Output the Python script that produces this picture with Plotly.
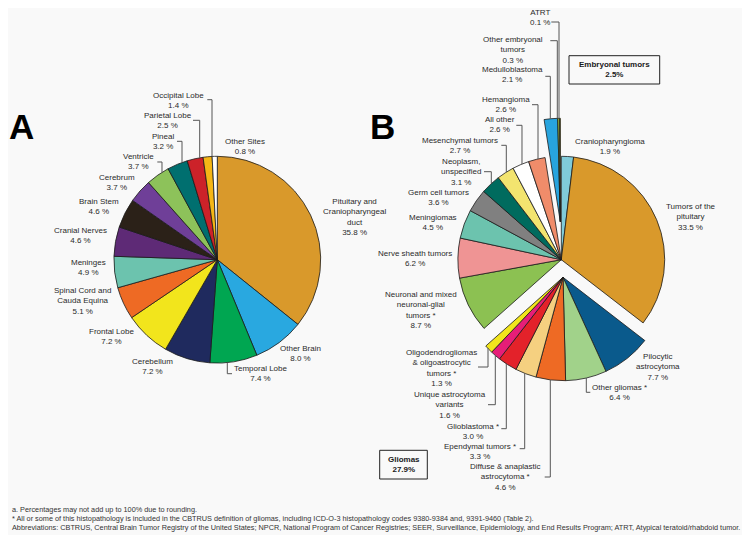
import math
import plotly.graph_objects as go

W, H = 750, 535

# ---------------- DATA ----------------
# Panel A: distribution by site
sites_a = ["Pituitary and Craniopharyngeal duct", "Other Brain", "Temporal Lobe", "Cerebellum",
           "Frontal Lobe", "Spinal Cord and Cauda Equina", "Meninges", "Cranial Nerves",
           "Brain Stem", "Cerebrum", "Ventricle", "Pineal", "Parietal Lobe",
           "Occipital Lobe", "Other Sites"]
pct_a = [35.8, 8.0, 7.4, 7.2, 7.2, 5.1, 4.9, 4.6, 4.6, 3.7, 3.7, 3.2, 2.5, 1.4, 0.8]

# Panel B: distribution by histopathology
hist_b = ["Craniopharyngioma", "Tumors of the pituitary", "Pilocytic astrocytoma",
          "Other gliomas *", "Diffuse & anaplastic astrocytoma *", "Ependymal tumors *",
          "Glioblastoma *", "Unique astrocytoma variants",
          "Oligodendrogliomas & oligoastrocytic tumors *",
          "Neuronal and mixed neuronal-glial tumors *", "Nerve sheath tumors", "Meningiomas",
          "Germ cell tumors", "Neoplasm, unspecified", "Mesenchymal tumors", "All other",
          "Hemangioma", "Medulloblastoma", "Other embryonal tumors", "ATRT"]
pct_b = [1.9, 33.5, 7.7, 6.4, 4.6, 3.3, 3.0, 1.6, 1.3, 8.7, 6.2, 4.5, 3.6, 3.1, 2.7, 2.6,
         2.6, 2.1, 0.3, 0.1]
group_b = ["none", "none", "Gliomas", "Gliomas", "Gliomas", "Gliomas", "Gliomas", "Gliomas",
           "Gliomas", "none", "none", "none", "none", "none", "none", "none", "none",
           "Embryonal tumors", "Embryonal tumors", "Embryonal tumors"]

footnotes = [
    "a. Percentages may not add up to 100% due to rounding.",
    "* All or some of this histopathology is included in the CBTRUS definition of gliomas, "
    "including ICD-O-3 histopathology codes 9380-9384 and, 9391-9460 (Table 2).",
    "Abbreviations: CBTRUS, Central Brain Tumor Registry of the United States; NPCR, National "
    "Program of Cancer Registries; SEER, Surveillance, Epidemiology, and End Results Program; "
    "ATRT, Atypical teratoid/rhabdoid tumor.",
]

# ---------------- STYLE / LAYOUT ----------------
colors_a = ["#d9992b", "#29a8e0", "#00a651", "#1f2a5e", "#f2e51c", "#ee6a24", "#6cc3ae",
            "#5e2a76", "#2b2118", "#6f3f98", "#8dc25a", "#006f6f", "#cc2229", "#f5b616",
            "#ffffff"]
colors_b = ["#80cbd9", "#d9992b", "#0a5a8c", "#a1d28a", "#ee6a24", "#f5d080", "#e3222a",
            "#e61e78", "#f2e51c", "#8cc152", "#ef9494", "#6cc3ae", "#808080", "#006b5e",
            "#f3e46f", "#ffffff", "#f08c6a", "#27a4de", "#9cbf3a", "#e8d21c"]

R = 103.4
CA = (209.3, 251.7)
CB = (553.3, 251.7)
SHIFT = {"none": (0.0, 0.0), "Gliomas": (1.7, 17.6), "Embryonal tumors": (-1.0, -38.0)}

display = {
    "Pituitary and Craniopharyngeal duct": "Pituitary and<br>Craniopharyngeal<br>duct",
    "Spinal Cord and Cauda Equina": "Spinal Cord and<br>Cauda Equina",
    "Tumors of the pituitary": "Tumors of the<br>pituitary",
    "Pilocytic astrocytoma": "Pilocytic<br>astrocytoma",
    "Diffuse & anaplastic astrocytoma *": "Diffuse &amp; anaplastic<br>astrocytoma *",
    "Unique astrocytoma variants": "Unique astrocytoma<br>variants",
    "Oligodendrogliomas & oligoastrocytic tumors *": "Oligodendrogliomas<br>&amp; oligoastrocytic<br>tumors *",
    "Neuronal and mixed neuronal-glial tumors *": "Neuronal and mixed<br>neuronal-glial<br>tumors *",
    "Neoplasm, unspecified": "Neoplasm,<br>unspecified",
    "Other embryonal tumors": "Other embryonal<br>tumors",
}

label_pos = {
    # panel A
    "Occipital Lobe": (170.7, 92.0), "Parietal Lobe": (160.0, 112.5), "Pineal": (155.3, 133.0),
    "Ventricle": (130.7, 153.8), "Cerebrum": (109.3, 174.2), "Brain Stem": (91.0, 198.0),
    "Cranial Nerves": (72.7, 227.8), "Other Sites": (237.3, 138.0),
    "Pituitary and Craniopharyngeal duct": (346.7, 209.3), "Meninges": (80.0, 259.2),
    "Spinal Cord and Cauda Equina": (74.7, 292.7), "Frontal Lobe": (103.7, 328.7),
    "Cerebellum": (144.7, 358.3), "Temporal Lobe": (252.7, 365.7), "Other Brain": (292.7, 345.2),
    # panel B
    "ATRT": (531.7, 9.7), "Other embryonal tumors": (505.0, 41.8),
    "Medulloblastoma": (504.0, 66.3), "Hemangioma": (498.3, 96.3), "All other": (491.7, 117.0),
    "Mesenchymal tumors": (451.7, 137.7), "Neoplasm, unspecified": (453.3, 163.8),
    "Germ cell tumors": (430.0, 189.0), "Craniopharyngioma": (601.7, 138.7),
    "Tumors of the pituitary": (683.3, 209.3), "Meningiomas": (425.0, 214.7),
    "Nerve sheath tumors": (406.7, 250.3),
    "Neuronal and mixed neuronal-glial tumors *": (413.3, 301.7),
    "Pilocytic astrocytoma": (650.0, 359.2), "Other gliomas *": (611.7, 384.8),
    "Oligodendrogliomas & oligoastrocytic tumors *": (433.3, 360.3),
    "Unique astrocytoma variants": (441.7, 396.7), "Glioblastoma *": (465.0, 423.0),
    "Ependymal tumors *": (471.7, 443.5), "Diffuse & anaplastic astrocytoma *": (497.3, 469.0),
}

# leader lines: list of points; 'top'/'bottom' -> point on circle at that x
leaders = [
    (CA, [(199.3, 91.7), (204.0, 91.7), (204.0, "top")]),
    (CA, [(185.0, 112.3), (191.7, 112.3), (191.7, "top")]),
    (CA, [(169.0, 133.3), (174.0, 133.3), (174.0, "top")]),
    (CA, [(149.3, 154.0), (154.0, 154.0), (154.0, "top")]),
    (CA, [(219.3, "bottom"), (219.3, 365.7), (224.0, 365.7)]),
    ("Embryonal tumors", [(543.3, 14.0), (551.0, 14.0), (551.0, "top")]),
    ("Embryonal tumors", [(542.3, 32.7), (549.3, 32.7), (549.3, "top")]),
    ("Embryonal tumors", [(537.3, 68.3), (542.3, 68.3), (542.3, "top")]),
    (CB, [(524.0, 96.7), (530.0, 96.7), (530.0, "top")]),
    (CB, [(508.3, 117.3), (514.0, 117.3), (514.0, "top")]),
    (CB, [(493.3, 137.3), (498.3, 137.3), (498.3, "top")]),
    (CB, [(476.0, 163.7), (483.3, 163.7), (483.3, "top")]),
    ("Gliomas", [(470.0, 359.0), (480.0, 359.0), (480.0, "bottom")]),
    ("Gliomas", [(480.0, 396.7), (487.3, 396.7), (487.3, "bottom")]),
    ("Gliomas", [(493.3, 420.7), (498.3, 420.7), (498.3, "bottom")]),
    ("Gliomas", [(511.7, 440.7), (516.7, 440.7), (516.7, "bottom")]),
    ("Gliomas", [(536.7, 469.0), (542.3, 469.0), (542.3, "bottom")]),
    ("Gliomas", [(578.3, "bottom"), (578.3, 384.3), (582.3, 384.3)]),
]

group_boxes = {"Embryonal tumors": (561.0, 47.7, 651.7, 76.0),
               "Gliomas": (371.7, 442.3, 419.3, 471.0)}

FONT = "Arial, Liberation Sans, sans-serif"
TXT = "#2b2b2b"


def px(x):
    return x / W


def py(y):
    return 1 - y / H


def domain(c):
    cx, cy = c
    return dict(x=[px(cx - R), px(cx + R)], y=[py(cy + R), py(cy - R)])


def center_of(key):
    if isinstance(key, tuple):
        return key
    dx, dy = SHIFT[key]
    return (CB[0] + dx, CB[1] + dy)


fig = go.Figure()

common = dict(sort=False, direction="clockwise", rotation=0, textinfo="none",
              hoverinfo="label+value", showlegend=False)

fig.add_trace(go.Pie(labels=sites_a, values=pct_a, domain=domain(CA),
                     marker=dict(colors=colors_a, line=dict(color="#1a1a1a", width=0.8)),
                     **common))

for g in ["none", "Gliomas", "Embryonal tumors"]:
    cols = [c if gg == g else "rgba(0,0,0,0)" for c, gg in zip(colors_b, group_b)]
    lws = [0.8 if gg == g else 0 for gg in group_b]
    fig.add_trace(go.Pie(labels=hist_b, values=pct_b, domain=domain(center_of(g)),
                         marker=dict(colors=cols, line=dict(color="#1a1a1a", width=lws)),
                         **common))

annotations = []
for name, v in list(zip(sites_a, pct_a)) + list(zip(hist_b, pct_b)):
    x, y = label_pos[name]
    annotations.append(dict(x=px(x), y=py(y), xref="paper", yref="paper",
                            text=f"{display.get(name, name)}<br>{v:.1f} %",
                            showarrow=False, xanchor="center", yanchor="middle",
                            align="center", font=dict(family=FONT, size=8, color=TXT)))

shapes = []
for key, pts in leaders:
    cx, cy = center_of(key)
    path = []
    for x, y in pts:
        if isinstance(y, str):
            h = math.sqrt(max(R * R - (x - cx) ** 2, 0))
            y = cy - h if y == "top" else cy + h
        path.append(f"{px(x):.5f},{py(y):.5f}")
    shapes.append(dict(type="path", xref="paper", yref="paper",
                       path="M" + " L".join(path), line=dict(color="#555555", width=1)))

for g, (x0, y0, x1, y1) in group_boxes.items():
    total = round(sum(v for v, gg in zip(pct_b, group_b) if gg == g), 1)
    shapes.append(dict(type="rect", xref="paper", yref="paper", x0=px(x0), x1=px(x1),
                       y0=py(y1), y1=py(y0), line=dict(color="#222222", width=1),
                       fillcolor="rgba(0,0,0,0)"))
    annotations.append(dict(x=px((x0 + x1) / 2), y=py((y0 + y1) / 2), xref="paper",
                            yref="paper", text=f"<b>{g}<br>{total:.1f}%</b>",
                            showarrow=False, xanchor="center", yanchor="middle",
                            font=dict(family=FONT, size=8, color="#1a1a1a")))

for letter, (x, y) in {"A": (13.5, 118.5), "B": (374.0, 118.5)}.items():
    annotations.append(dict(x=px(x), y=py(y), xref="paper", yref="paper",
                            text=f"<b>{letter}</b>", showarrow=False, xanchor="center",
                            yanchor="middle", font=dict(family=FONT, size=35, color="#000000")))

for i, line in enumerate(footnotes):
    annotations.append(dict(x=px(2), y=py(501.7 + 9 * i), xref="paper", yref="paper",
                            text=line, showarrow=False, xanchor="left", yanchor="middle",
                            font=dict(family=FONT, size=7.3, color="#333333")))

fig.update_layout(width=W, height=H, margin=dict(l=0, r=0, t=0, b=0),
                  paper_bgcolor="#f9f9f9", plot_bgcolor="#f9f9f9",
                  annotations=annotations, shapes=shapes, showlegend=False)

fig.write_html("out.html")
